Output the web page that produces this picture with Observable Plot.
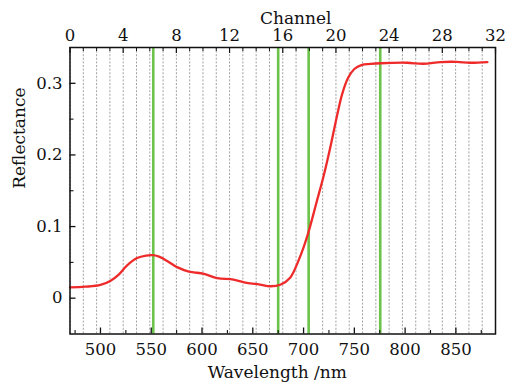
<!DOCTYPE html>
<html>
<head>
<meta charset="utf-8">
<script src="https://cdn.jsdelivr.net/npm/d3@7"></script>
<script src="https://cdn.jsdelivr.net/npm/@observablehq/plot@0.6"></script>
<style>
  html, body { margin: 0; padding: 0; background: #ffffff; }
  #chart { width: 506px; height: 383px; }
</style>
</head>
<body>
<div id="chart"></div>
<script>
// Reflectance spectrum (wavelength nm, reflectance)
const wavelengths = [470, 485, 500, 510, 518, 526, 536, 545, 551, 557, 562, 570, 576, 587, 592, 602, 615, 631, 644, 657, 667, 677, 687, 695, 700, 705, 713, 720, 727, 733, 738, 744, 750, 757, 766, 776, 802, 818, 835, 851, 864, 881];
const reflectance = [0.015, 0.016, 0.0185, 0.0245, 0.033, 0.0455, 0.056, 0.0595, 0.060, 0.0585, 0.055, 0.048, 0.043, 0.037, 0.036, 0.034, 0.028, 0.026, 0.0214, 0.019, 0.0167, 0.0187, 0.029, 0.0525, 0.071, 0.093, 0.135, 0.172, 0.215, 0.255, 0.285, 0.308, 0.320, 0.3255, 0.327, 0.328, 0.3287, 0.3273, 0.3297, 0.330, 0.3287, 0.3297];

// Selected band wavelengths (green lines)
const selectedBands = [552, 675, 705, 775.5];

// Axes
const wlRange = [470, 889];
const channelRange = [0, 32];
const channelTicks = [0, 4, 8, 12, 16, 20, 24, 28, 32];
const channelAll = d3.range(0, 33);
const wlMajor = [500, 550, 600, 650, 700, 750, 800, 850];
const wlMinor = [475, 525, 575, 625, 675, 725, 775, 825, 875];
const yMajor = [0, 0.1, 0.2, 0.3];
const yMinor = [0.05, 0.15, 0.25];
const yLabels = ["0", "0.1", "0.2", "0.3"];

const ch2wl = c => wlRange[0] + (c - channelRange[0]) * (wlRange[1] - wlRange[0]) / (channelRange[1] - channelRange[0]);
const data = wavelengths.map((w, i) => ({w, r: reflectance[i]}));

const W = 506, H = 383;
const mL = 69.5, mR = 11, mT = 47, mB = 49.5;
const innerW = W - mL - mR, innerH = H - mT - mB;
const font = "'DejaVu Serif', serif";
const ink = "#111";
const tickFs = 16.5, titleFs = 17;

const chart = Plot.plot({
  width: W, height: H,
  marginLeft: mL, marginRight: mR, marginTop: mT, marginBottom: mB,
  style: {fontFamily: font, fontSize: "16px", color: ink, background: "#ffffff"},
  x: {domain: wlRange, axis: null},
  y: {domain: [-0.05, 0.35], axis: null},
  marks: [
    Plot.ruleX(channelAll.map(ch2wl), {stroke: "#8a8a8a", strokeWidth: 0.8, strokeDasharray: "2,1.6"}),
    Plot.ruleX(selectedBands, {stroke: "#6cc24a", strokeWidth: 2.6}),
    Plot.line(data, {x: "w", y: "r", stroke: "#ee2a2a", strokeWidth: 2.3, curve: "catmull-rom"}),
    // inward ticks
    Plot.tickX(wlMajor, {x: d => d, stroke: ink, strokeWidth: 1.3, insetTop: innerH - 6}),
    Plot.tickX(wlMinor, {x: d => d, stroke: ink, strokeWidth: 1.1, insetTop: innerH - 3.5}),
    Plot.tickX(channelTicks.map(ch2wl), {x: d => d, stroke: ink, strokeWidth: 1.2, insetBottom: innerH - 6}),
    Plot.tickX(channelAll.filter(c => c % 4 !== 0).map(ch2wl), {x: d => d, stroke: ink, strokeWidth: 1, insetBottom: innerH - 4}),
    Plot.tickY(yMajor, {y: d => d, stroke: ink, strokeWidth: 1.3, insetRight: innerW - 6}),
    Plot.tickY(yMinor, {y: d => d, stroke: ink, strokeWidth: 1.1, insetRight: innerW - 4}),
    Plot.frame({stroke: ink, strokeWidth: 1.5}),
    // tick labels
    Plot.text(wlMajor, {x: d => d, frameAnchor: "bottom", lineAnchor: "middle", dy: 16.2, text: d => String(d), fontFamily: font, fontSize: tickFs, fill: ink}),
    Plot.text(channelTicks, {x: d => ch2wl(d), frameAnchor: "top", lineAnchor: "middle", dy: -11.6, text: d => String(d), fontFamily: font, fontSize: tickFs, fill: ink}),
    Plot.text(yMajor, {y: d => d, frameAnchor: "left", lineAnchor: "middle", dx: -7.5, textAnchor: "end", text: (d, i) => yLabels[i], fontFamily: font, fontSize: tickFs, fill: ink}),
    // axis titles
    Plot.text(["Channel"], {frameAnchor: "top", lineAnchor: "middle", dx: 13, dy: -29.4, fontFamily: font, fontSize: titleFs, fill: ink}),
    Plot.text(["Wavelength /nm"], {frameAnchor: "bottom", lineAnchor: "middle", dx: -5.5, dy: 39, fontFamily: font, fontSize: titleFs, fill: ink}),
    Plot.text(["Reflectance"], {frameAnchor: "left", lineAnchor: "middle", dx: -50, dy: -2, rotate: -90, fontFamily: font, fontSize: titleFs, fill: ink})
  ]
});
document.getElementById("chart").appendChild(chart);
</script>
</body>
</html>
